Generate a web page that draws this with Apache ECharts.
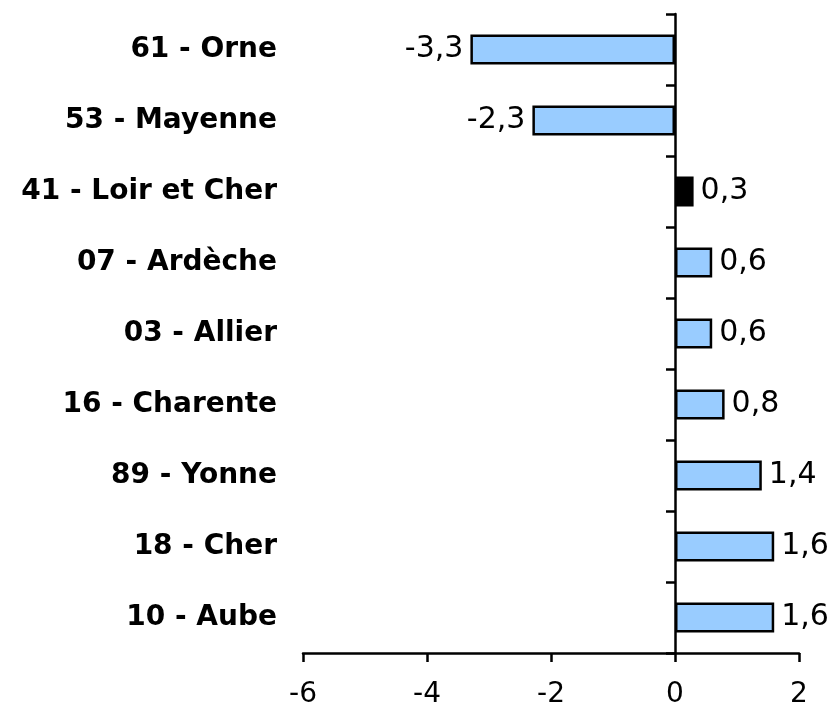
<!DOCTYPE html>
<html>
<head>
<meta charset="utf-8">
<script src="https://cdn.jsdelivr.net/npm/echarts@6/dist/echarts.min.js"></script>
<style>
html,body{margin:0;padding:0;background:#fff;}
#chart{width:837px;height:714px;}
</style>
</head>
<body>
<div id="chart"></div>
<script>
const categories = ["61 - Orne","53 - Mayenne","41 - Loir et Cher","07 - Ardèche","03 - Allier","16 - Charente","89 - Yonne","18 - Cher","10 - Aube"];
const values = [-3.3,-2.3,0.3,0.6,0.6,0.8,1.4,1.6,1.6];
const highlighted = ["41 - Loir et Cher"];
const xTicks = [-6,-4,-2,0,2];

const FONT = "'DejaVu Sans', Arial, sans-serif";
const barData = values.map((v, i) => ({
  value: v,
  itemStyle: {
    color: highlighted.includes(categories[i]) ? '#000000' : '#99CCFF',
    borderColor: '#000', borderWidth: 2.5
  },
  label: { position: v < 0 ? 'left' : 'right', distance: 7 }
}));

const chart = echarts.init(document.getElementById('chart'), null, {renderer:'canvas'});
chart.setOption({
  animation: false,
  backgroundColor: '#fff',
  grid: { left: 303, right: 38, top: 14, bottom: 61, containLabel: false },
  xAxis: {
    type: 'value', min: xTicks[0], max: xTicks[xTicks.length-1], interval: 2,
    axisLine: { show: true, lineStyle: { color: '#000', width: 2.5 } },
    axisTick: { show: true, length: 9, lineStyle: { color: '#000', width: 2.5 } },
    splitLine: { show: false },
    axisLabel: { color: '#000', fontSize: 28, fontFamily: FONT, margin: 28,
      formatter: v => String(v).replace('.', ',') }
  },
  yAxis: [
    {
      type: 'category', data: categories, inverse: true,
      axisLine: { show: true, onZero: true, lineStyle: { color: '#000', width: 2.5 } },
      axisTick: { show: true, length: 9, lineStyle: { color: '#000', width: 2.5 } },
      axisLabel: { show: false }
    },
    {
      type: 'category', data: categories, inverse: true, position: 'left',
      axisLine: { show: false, onZero: false },
      axisTick: { show: false },
      axisLabel: { show: true, color: '#000', fontSize: 28, fontWeight: 'bold', fontFamily: FONT, margin: 26 }
    }
  ],
  series: [{
    type: 'bar', yAxisIndex: 0, data: barData, barWidth: 30,
    label: { show: true, color: '#000', fontSize: 30, fontFamily: FONT,
      formatter: p => String(p.value).replace('.', ',') }
  }]
});
</script>
</body>
</html>
